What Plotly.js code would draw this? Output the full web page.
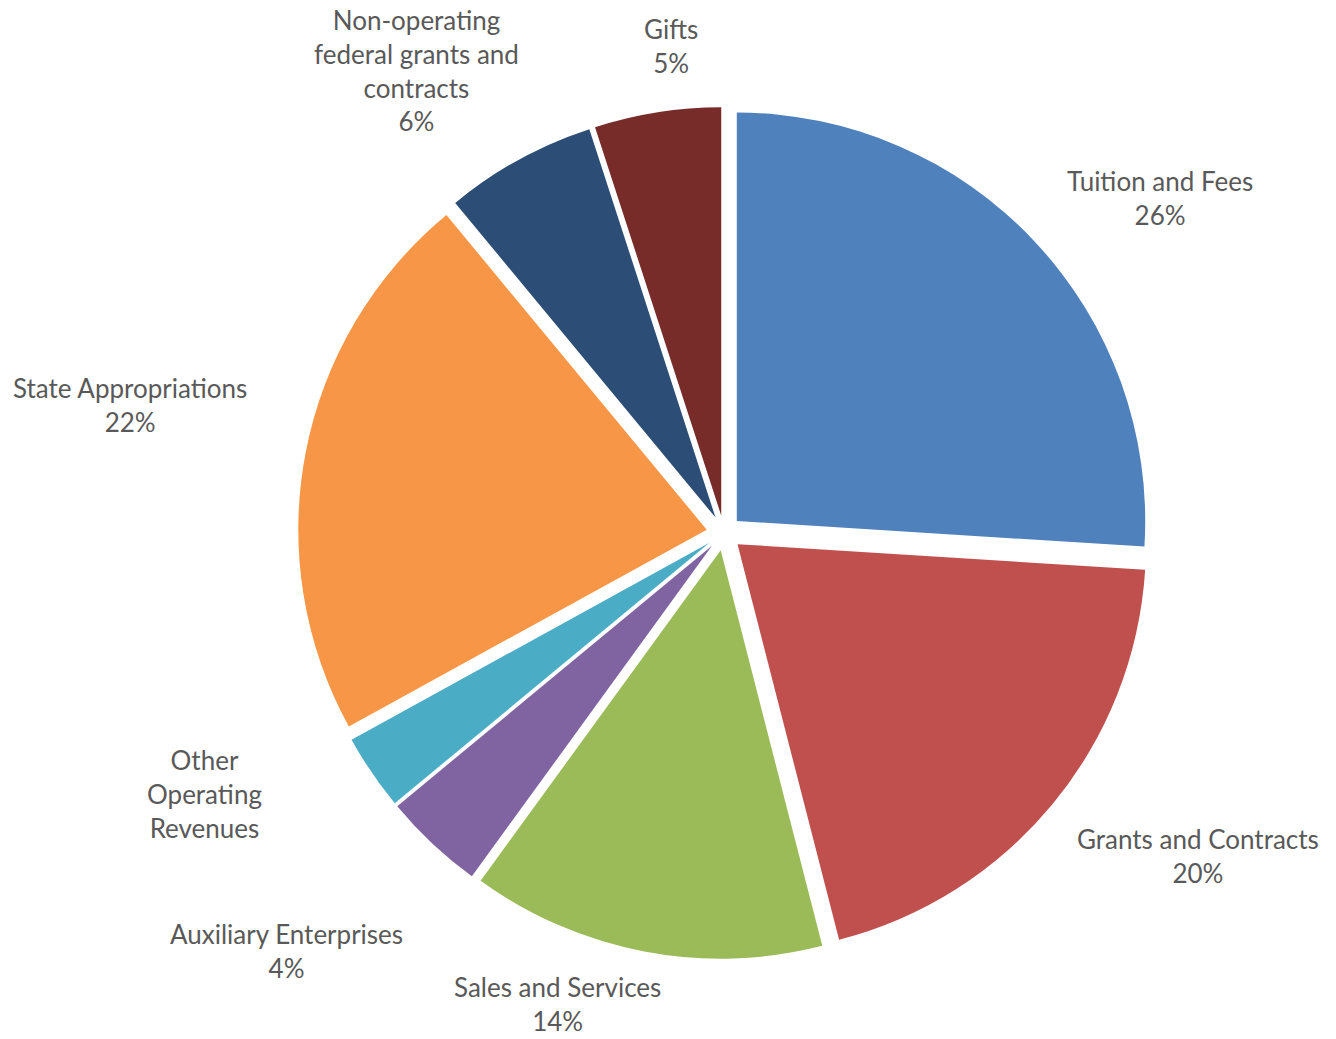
<!DOCTYPE html>
<html>
<head>
<meta charset="utf-8">
<script src="https://cdn.plot.ly/plotly-3.0.1.min.js"></script>
<style>html,body{margin:0;padding:0;background:#fff;}#chart{width:1336px;height:1039px;}</style>
</head>
<body>
<div id="chart"></div>
<script>
// Data
const categories = ["Tuition and Fees", "Grants and Contracts", "Sales and Services", "Auxiliary Enterprises",
  "Other Operating Revenues", "State Appropriations", "Non-operating federal grants and contracts", "Gifts"];
const values = [26, 20, 14, 4, 3, 22, 6, 5];
const labelLines = ["Tuition and Fees", "Grants and Contracts", "Sales and Services", "Auxiliary Enterprises",
  "Other<br>Operating<br>Revenues", "State Appropriations", "Non-operating<br>federal grants and<br>contracts", "Gifts"];
const showPercent = [true, true, true, true, false, true, true, true];
const colors = ["#4F81BD", "#C0504D", "#9BBB59", "#8064A2", "#4BACC6", "#F79646", "#2C4D75", "#772C2A"];

// Label placement (layout, pixel positions of label centres)
const labelPos = [[1160, 198], [1198, 856], [557, 1004], [286, 951], [204, 794], [130, 405], [416, 71], [671, 46]];

const W = 1336, H = 1039;
const total = values.reduce((a, b) => a + b, 0);
const cx = 724, cy = 533, half = 426;

const trace = {
  type: "pie",
  labels: categories,
  values: values,
  sort: false,
  direction: "clockwise",
  rotation: 0,
  pull: 0.043,
  textinfo: "none",
  hoverinfo: "label+percent",
  marker: {colors: colors, line: {width: 0}},
  domain: {x: [(cx - half) / W, (cx + half) / W], y: [(H - cy - half) / H, (H - cy + half) / H]},
  showlegend: false
};

const annotations = categories.map((c, i) => {
  const pct = Math.round(values[i] / total * 100) + "%";
  return {
    xref: "paper", yref: "paper",
    x: labelPos[i][0] / W, y: 1 - labelPos[i][1] / H,
    xanchor: "center", yanchor: "middle",
    text: labelLines[i] + (showPercent[i] ? "<br>" + pct : ""),
    showarrow: false,
    align: "center",
    borderpad: 0,
    font: {family: "Lato, 'Open Sans', sans-serif", size: 26, color: "#595959"}
  };
});

const layout = {
  width: W, height: H,
  margin: {l: 0, r: 0, t: 0, b: 0},
  paper_bgcolor: "#ffffff",
  plot_bgcolor: "#ffffff",
  annotations: annotations
};

Plotly.newPlot("chart", [trace], layout, {displayModeBar: false, staticPlot: true});
</script>
</body>
</html>
